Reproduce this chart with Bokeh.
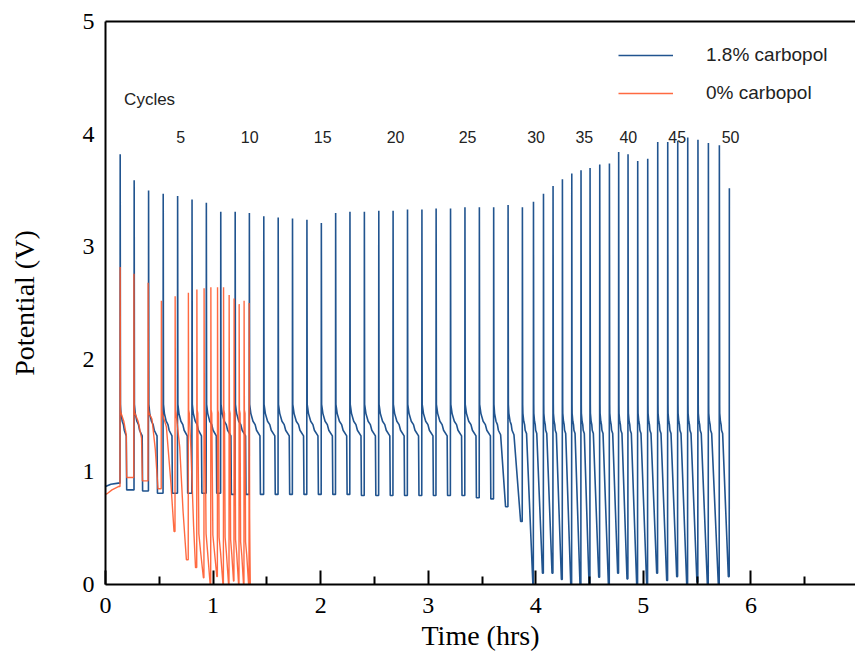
import math
from bokeh.plotting import figure
from bokeh.models import Range1d, LinearAxis, FixedTicker, Legend, LegendItem, ColumnDataSource
from bokeh.core.properties import value
from bokeh.embed import file_html
from bokeh.resources import INLINE

# ---------------- data ----------------
blue_pre_t = [0.0, 0.05, 0.12]
blue_pre_v = [0.87, 0.89, 0.90]
blue_start = [0.135, 0.265, 0.399, 0.535, 0.669, 0.803, 0.936, 1.070, 1.204, 1.336,
              1.470, 1.604, 1.737, 1.871, 2.005, 2.138, 2.271, 2.405, 2.539, 2.672,
              2.806, 2.940, 3.072, 3.206, 3.340, 3.474, 3.607, 3.741, 3.874, 3.977,
              4.070, 4.159, 4.246, 4.333, 4.419, 4.503, 4.593, 4.683, 4.769, 4.856,
              4.946, 5.039, 5.132, 5.225, 5.318, 5.411, 5.506, 5.603, 5.705, 5.798]
blue_peak = [3.82, 3.59, 3.50, 3.47, 3.45, 3.42, 3.39, 3.31, 3.31, 3.30,
             3.27, 3.26, 3.25, 3.24, 3.21, 3.30, 3.31, 3.31, 3.32, 3.32,
             3.33, 3.33, 3.34, 3.34, 3.35, 3.35, 3.35, 3.37, 3.35, 3.40,
             3.47, 3.54, 3.60, 3.65, 3.68, 3.70, 3.73, 3.74, 3.84, 3.82,
             3.76, 3.78, 3.93, 3.93, 3.94, 3.97, 3.95, 3.92, 3.90, 3.52]
blue_knee_dt = [0.058, 0.076, 0.080, 0.083, 0.091, 0.089, 0.094, 0.096, 0.098, 0.100,
                0.104, 0.104, 0.104, 0.104, 0.104, 0.104, 0.104, 0.104, 0.104, 0.104,
                0.104, 0.104, 0.104, 0.104, 0.104, 0.104, 0.066, 0.056, 0.040, 0.032,
                0.032, 0.032, 0.032, 0.032, 0.032, 0.032, 0.032, 0.032, 0.032, 0.032,
                0.032, 0.032, 0.032, 0.032, 0.032, 0.032, 0.032, 0.032, 0.032, None]
blue_knee_v = [1.32] * 26 + [1.33, 1.33, 1.34] + [1.34] * 20 + [None]
blue_end_dt = [0.062, 0.080, 0.084, 0.087, 0.095, 0.093, 0.098, 0.100, 0.102, 0.104,
               0.108, 0.108, 0.108, 0.108, 0.108, 0.108, 0.108, 0.108, 0.108, 0.108,
               0.108, 0.108, 0.108, 0.108, 0.108, 0.108, 0.112, 0.118, 0.099, 0.085,
               0.081, 0.079, 0.079, 0.078, 0.076, 0.082, 0.082, 0.078, 0.079, 0.082,
               0.085, 0.085, 0.085, 0.085, 0.085, 0.087, 0.089, 0.094, 0.085, None]
blue_low = [0.84, 0.83, 0.81, 0.81, 0.81, 0.81, 0.81, 0.80, 0.80, 0.80,
            0.80, 0.80, 0.80, 0.80, 0.80, 0.80, 0.79, 0.79, 0.79, 0.79,
            0.79, 0.79, 0.79, 0.79, 0.77, 0.76, 0.69, 0.56, 0.0, 0.10,
            0.10, 0.045, 0.0, 0.0, 0.0, 0.065, 0.0, 0.10, 0.05, 0.0,
            0.0, 0.10, 0.035, 0.07, 0.0, 0.02, 0.0, 0.0, 0.07, None]
blue_plateau_frac = [0.15, 0.35, 0.55, 0.68]
blue_plateau_v = [1.52, 1.45, 1.42, 1.37]

orange_pre_t = [0.0, 0.02, 0.06, 0.12]
orange_pre_v = [0.80, 0.81, 0.84, 0.87]
orange_start = [0.135, 0.263, 0.395, 0.518, 0.646, 0.769, 0.848, 0.915, 0.978, 1.040,
                1.096, 1.148, 1.194, 1.241, 1.287, 1.334]
orange_peak = [2.82, 2.76, 2.68, 2.52, 2.56, 2.59, 2.62, 2.63, 2.64, 2.64,
               2.64, 2.57, 2.54, 2.49, 2.52, 2.50]
orange_k1_dt = [0.035, 0.040, 0.037, 0.048, 0.044, 0.025, 0.020, 0.020, 0.020, 0.016,
                0.016, 0.015, 0.015, 0.015, 0.015, 0.006]
orange_k1_v = [1.45, 1.45, 1.47, 1.40, 1.22, 1.20, 0.45, 0.45, 0.44, 0.42,
               0.42, 0.40, 0.40, 0.38, 0.38, 0.60]
orange_k2_dt = [0.058, 0.072, 0.068, 0.090, 0.075, 0.050, 0.035, 0.034, 0.034, 0.030,
                0.028, 0.026, 0.026, 0.026, 0.026, 0.009]
orange_k2_v = [1.33, 1.30, 1.20, 0.90, 0.65, 0.52, 0.30, 0.29, 0.30, 0.28,
               0.28, 0.27, 0.27, 0.26, 0.26, 0.25]
orange_end_dt = [0.062, 0.080, 0.093, 0.119, 0.106, 0.068, 0.062, 0.058, 0.057, 0.052,
                 0.048, 0.042, 0.043, 0.042, 0.043, 0.012]
orange_low = [0.95, 0.92, 0.85, 0.47, 0.22, 0.15, 0.06, 0.0, 0.07, 0.0,
              0.0, 0.03, 0.0, 0.0, 0.0, 0.0]

cycle_labels = ["5", "10", "15", "20", "25", "30", "35", "40", "45", "50"]
cycle_label_t = [0.699, 1.340, 2.019, 2.697, 3.366, 4.003, 4.451, 4.860, 5.315, 5.811]
cycle_label_v = 3.97
cycles_title_t = 0.410
cycles_title_v = 4.31

BLUE = "#21548f"
ORANGE = "#ff5a2c"


def build_blue():
    xs = list(blue_pre_t)
    ys = list(blue_pre_v)
    for i, ts in enumerate(blue_start):
        xs += [ts, ts + 0.0015]
        ys += [ys[-1], blue_peak[i]]
        if blue_knee_dt[i] is None:
            break
        xs.append(ts + 0.004)
        ys.append(1.60)
        kd = blue_knee_dt[i]
        for f, v in zip(blue_plateau_frac, blue_plateau_v):
            xs.append(ts + f * kd)
            ys.append(v)
        xs.append(ts + kd)
        ys.append(blue_knee_v[i])
        xs.append(ts + blue_end_dt[i])
        ys.append(blue_low[i])
    return xs, ys


def build_orange():
    xs = list(orange_pre_t)
    ys = list(orange_pre_v)
    for i, ts in enumerate(orange_start):
        xs += [ts, ts + 0.0015, ts + 0.004]
        ys += [ys[-1], orange_peak[i], 1.55]
        if orange_k1_dt[i] > 0.012:
            xs.append(ts + 0.010)
            ys.append(1.52)
        xs += [ts + orange_k1_dt[i], ts + orange_k2_dt[i], ts + orange_end_dt[i]]
        ys += [orange_k1_v[i], orange_k2_v[i], orange_low[i]]
    return xs, ys


bx, by = build_blue()
ox, oy = build_orange()

p = figure(width=855, height=654, output_backend="svg", toolbar_location=None,
           x_range=Range1d(0, 6.972), y_range=Range1d(0, 5),
           min_border_left=105, min_border_right=0, min_border_top=21, min_border_bottom=70,
           x_axis_location="below", y_axis_location="left")
p.xgrid.visible = False
p.ygrid.visible = False
p.outline_line_color = None
p.background_fill_color = "white"
p.border_fill_color = "white"

blue_r = p.line(bx, by, line_color=BLUE, line_width=1.6)
orange_r = p.line(ox, oy, line_color=ORANGE, line_width=1.4, line_alpha=0.9)

serif = "Liberation Serif"
sans = "Liberation Sans"

xa = p.xaxis[0]
xa.ticker = FixedTicker(ticks=[0, 1, 2, 3, 4, 5, 6, 7], minor_ticks=[0.5, 1.5, 2.5, 3.5, 4.5, 5.5, 6.5])
xa.axis_line_width = 2
xa.axis_line_color = "black"
xa.major_tick_in = 14
xa.major_tick_out = 0
xa.minor_tick_in = 8
xa.minor_tick_out = 0
xa.major_tick_line_width = 2
xa.minor_tick_line_width = 2
xa.major_tick_line_color = "black"
xa.minor_tick_line_color = "black"
xa.major_label_text_font = serif
xa.major_label_text_font_size = "24px"
xa.major_label_text_color = "black"
xa.major_label_standoff = 13
xa.axis_label = "Time (hrs)"
xa.axis_label_text_font = serif
xa.axis_label_text_font_size = "28px"
xa.axis_label_text_font_style = "normal"
xa.axis_label_text_color = "black"
xa.axis_label_standoff = 4

ya = p.yaxis[0]
ya.ticker = FixedTicker(ticks=[0, 1, 2, 3, 4, 5])
ya.axis_line_width = 2
ya.axis_line_color = "black"
ya.major_tick_in = 0
ya.major_tick_out = 0
ya.minor_tick_in = 0
ya.minor_tick_out = 0
ya.major_label_text_font = serif
ya.major_label_text_font_size = "24px"
ya.major_label_text_color = "black"
ya.major_label_standoff = 11
ya.axis_label = "Potential (V)"
ya.axis_label_text_font = serif
ya.axis_label_text_font_size = "28px"
ya.axis_label_text_font_style = "normal"
ya.axis_label_text_color = "black"
ya.axis_label_standoff = 40

top = LinearAxis(ticker=FixedTicker(ticks=[]), axis_line_width=2, axis_line_color="black",
                 major_tick_in=0, major_tick_out=0, minor_tick_in=0, minor_tick_out=0,
                 major_label_text_font_size="0px")
p.add_layout(top, "above")

src = ColumnDataSource(dict(x=cycle_label_t, y=[cycle_label_v] * len(cycle_labels), t=cycle_labels))
p.text(x="x", y="y", text="t", source=src, text_align="center", text_baseline="middle",
       text_font=value(sans), text_font_size="16px", text_color="#222222")
p.text(x=[cycles_title_t], y=[cycles_title_v], text=["Cycles"], text_align="center", text_baseline="middle",
       text_font=value(sans), text_font_size="17px", text_color="#222222")

legend = Legend(items=[LegendItem(label="1.8% carbopol", renderers=[blue_r]),
                       LegendItem(label="0% carbopol", renderers=[orange_r])],
                location=(513, 479), padding=0, margin=0, spacing=14,
                glyph_width=55, glyph_height=24, label_height=24, label_standoff=33,
                label_text_font=sans, label_text_font_size="19px", label_text_color="#222222",
                background_fill_alpha=0, border_line_alpha=0)
p.add_layout(legend)

open("out.html", "w").write(file_html(p, INLINE))
